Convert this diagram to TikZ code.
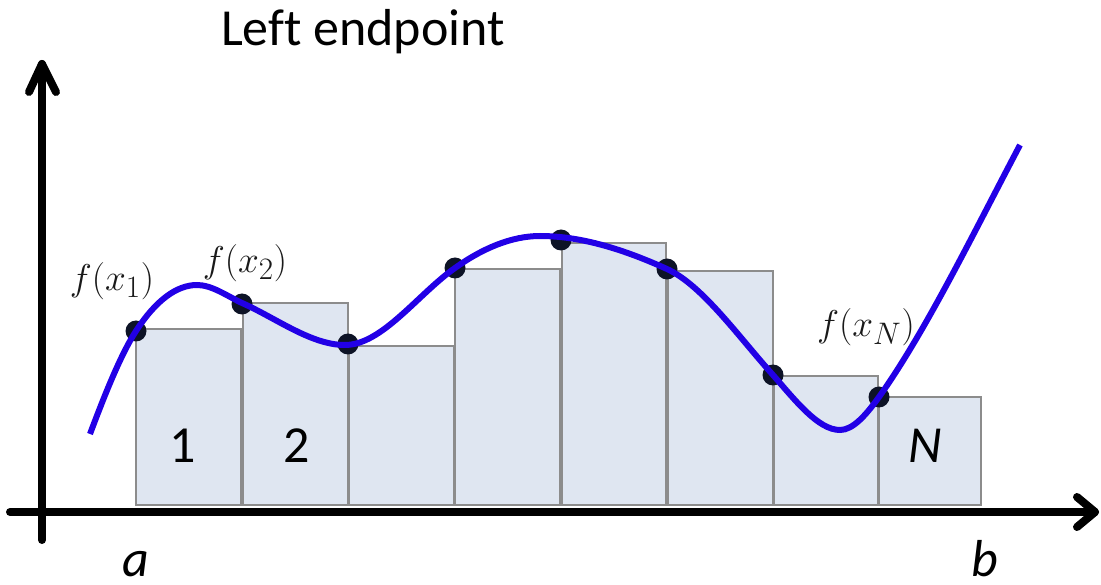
\documentclass[tikz,border=0pt]{standalone}
\usepackage{fontspec}
\setmainfont{Carlito}[Ligatures=NoCommon]
\begin{document}
\begin{tikzpicture}[x=1pt,y=-1pt,
  axisline/.style={line width=8pt,line cap=round,line join=round},
  bar/.style={draw=black!45,line width=1.6pt,fill=barfill},
  dot/.style={fill=dotcol},
  curve/.style={draw=curvecol,line width=6pt,line cap=butt},
  lbl/.style={font=\fontsize{52}{60}\selectfont,inner sep=0pt},
  mlbl/.style={font=\Huge,scale=1.5,text=black!90,inner sep=0pt}]
\definecolor{barfill}{HTML}{DFE6F1}
\definecolor{dotcol}{HTML}{0D1326}
\definecolor{curvecol}{HTML}{2200E6}
\useasboundingbox (0,0) rectangle (1101,585);
% bars
\draw[bar] (136,505) rectangle (241,329);
\draw[bar] (243,505) rectangle (348,303);
\draw[bar] (349,505) rectangle (454,346);
\draw[bar] (455,505) rectangle (560,269);
\draw[bar] (562,505) rectangle (666,243);
\draw[bar] (668,505) rectangle (773,271);
\draw[bar] (774,505) rectangle (878,376);
\draw[bar] (879,505) rectangle (981,397);
% axes
\draw[axisline] (42,540) -- (42,64);
\draw[axisline] (29,92) -- (42,64) -- (56,92);
\draw[axisline] (10,512) -- (1095,512);
\draw[axisline] (1077,497) -- (1095,512) -- (1077,527);
% dots
\foreach \p in {(136,331),(242,304),(348,344),(455,268),(561,240),(667,269),(773,375),(879,397)}
  \fill[dot] \p circle (10.5);
% curve
\draw[curve] (90,434)
  .. controls (105,394) and (121,354) .. (136,331)
  .. controls (156,300) and (177,285) .. (197,285)
  .. controls (212,285) and (227,296) .. (242,303)
  .. controls (276,318) and (311,345) .. (345,345)
  .. controls (382,345) and (418,294) .. (455,268)
  .. controls (483,248) and (512,236) .. (540,236)
  .. controls (582,236) and (625,250) .. (667,269)
  .. controls (702,285) and (738,336) .. (773,375)
  .. controls (795,400) and (818,430) .. (840,430)
  .. controls (853,430) and (866,415) .. (879,397)
  .. controls (926,331) and (973,234) .. (1020,145);
% labels
\node[lbl,anchor=base] (title) at (363,46) {Left endpoint};
\node[lbl,anchor=base] (n1) at (183,462) {1};
\node[lbl,anchor=base] (n2) at (297,462) {2};
\node[lbl,anchor=base] (nN) at (925,462) {\itshape N};
\node[lbl,anchor=base] (la) at (136,576) {\itshape a};
\node[lbl,anchor=base] (lb) at (985,576) {\itshape b};
\node[mlbl] (f1) at (112,281) {$f(x_1)$};
\node[mlbl] (f2) at (245,263) {$f(x_2)$};
\node[mlbl] (fN) at (866,327) {$f(x_N)$};
\end{tikzpicture}
\end{document}
